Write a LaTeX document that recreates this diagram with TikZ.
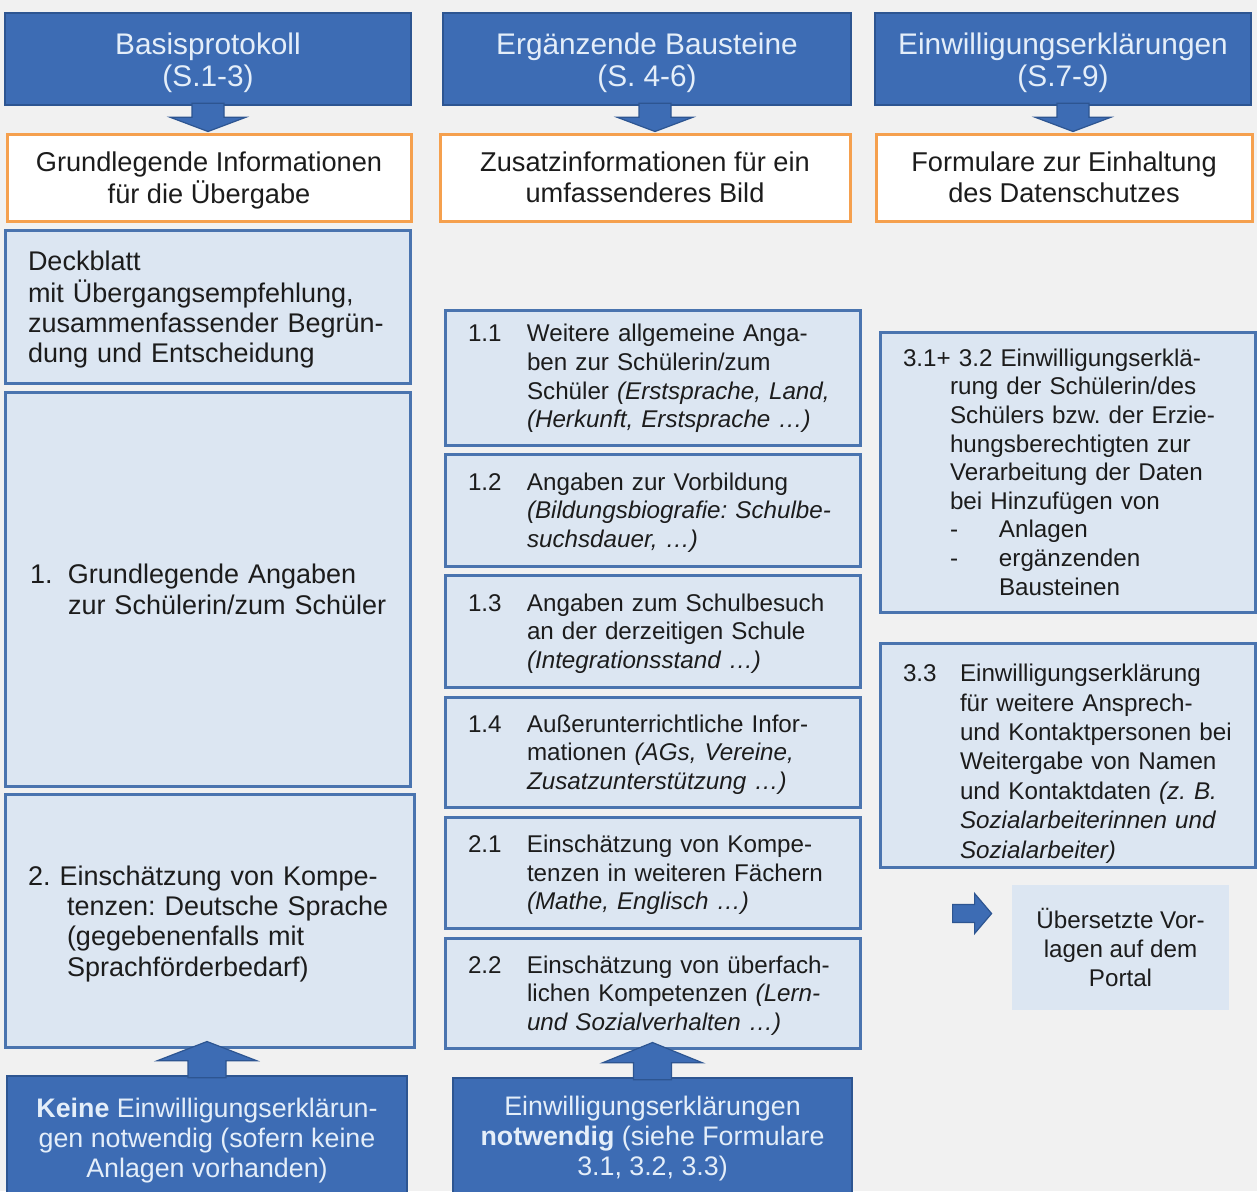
\documentclass[tikz,border=0pt]{standalone}
\usepackage{fontspec}
\setmainfont{Liberation Sans}
\usetikzlibrary{calc}
\definecolor{bg}{HTML}{F1F1F1}
\definecolor{hdfill}{HTML}{3D6CB4}
\definecolor{hdline}{HTML}{2D5591}
\definecolor{hdtext}{HTML}{E4EEF9}
\definecolor{lbfill}{HTML}{DCE6F2}
\definecolor{lbline}{HTML}{4A74AF}
\definecolor{orline}{HTML}{F5A04E}
\definecolor{txt}{HTML}{1C1C1C}
\newcommand\dn[2]{\raisebox{-#1}[\height][\depth]{#2}}
\newcommand\numtab[3]{\noindent\dn{#1}{\begin{tabular}{@{}p{#2}@{}l@{}}#3\end{tabular}}}
\newcommand\ctab[2]{\dn{#1}{\begin{tabular}{@{}c@{}}#2\end{tabular}}}
\newcommand\dnarrow[3]{%
  \filldraw[blockarrow] ($(#1.south)+(#3-16,-3)$) -- ($(#1.south)+(#3+16,-3)$)
   -- ($(#1.south)+(#3+16,11)$) -- ($(#1.south)+(#3+38,11)$)
   -- ($(#1.south |- #2.north)+(#3,-1)$)
   -- ($(#1.south)+(#3-38,11)$) -- ($(#1.south)+(#3-16,11)$) -- cycle;}
\newcommand\uparrowblk[3]{%
  \filldraw[blockarrow] ($(#1.north)+(#3-19,3)$) -- ($(#1.north)+(#3-19,-14)$)
   -- ($(#1.north)+(#3-50,-14)$) -- ($(#1.north |- #2.south)+(#3,-7)$)
   -- ($(#1.north)+(#3+50,-14)$) -- ($(#1.north)+(#3+19,-14)$)
   -- ($(#1.north)+(#3+19,3)$) -- cycle;}
\tikzset{
  hdbox/.style={draw=hdline, fill=hdfill, line width=1.2pt, text=hdtext, align=center, inner sep=0pt},
  hdfont/.style={font=\fontsize{14.9}{16}\selectfont},
  btfont/.style={font=\fontsize{13.4}{15}\selectfont},
  orbox/.style={draw=orline, fill=white, line width=1.5pt, text=txt, align=center, inner sep=0pt, font=\fontsize{13.6}{15.5}\selectfont},
  lbox/.style={draw=lbline, fill=lbfill, line width=1.5pt, text=txt, align=left, inner xsep=11.5pt, inner ysep=0pt},
  bigfont/.style={font=\fontsize{13.5}{15.2}\selectfont},
  smfont/.style={font=\fontsize{12.1}{14.3}\selectfont},
  rfont/.style={font=\fontsize{12.1}{14.7}\selectfont},
  blockarrow/.style={fill=hdfill, draw=hdline, line width=0.6pt, line join=miter},
}
\begin{document}
\frenchspacing
\begin{tikzpicture}[x=0.5pt,y=-0.5pt]
\useasboundingbox (0,0) rectangle (1257,1191);
\clip (0,0) rectangle (1257,1191);
\fill[bg] (0,0) rectangle (1257,1191);

% headers
\node[hdbox, hdfont, minimum width=203pt, minimum height=46pt] (h1) at (208,59) {\ctab{2.5pt}{Basisprotokoll\\(S.1-3)}};
\node[hdbox, hdfont, minimum width=204pt, minimum height=46pt] (h2) at (647,59) {\ctab{2.5pt}{Ergänzende Bausteine\\(S. 4-6)}};
\node[hdbox, hdfont, minimum width=188pt, minimum height=46pt] (h3) at (1063,59) {\ctab{2.5pt}{Einwilligungserklärungen\\(S.7-9)}};

% orange boxes
\node[orbox, minimum width=202pt, minimum height=43.5pt] (o1) at (209,177.5) {\ctab{1.8pt}{Grundlegende Informationen\\für die Übergabe}};
\node[orbox, minimum width=205pt, minimum height=43.5pt] (o2) at (645,177.5) {\ctab{1.8pt}{Zusatzinformationen für ein\\umfassenderes Bild}};
\node[orbox, minimum width=188pt, minimum height=43.5pt] (o3) at (1064,177.5) {\ctab{1.8pt}{Formulare zur Einhaltung\\des Datenschutzes}};

% left column
\node[lbox, bigfont, text width=179.5pt, minimum width=202.5pt, minimum height=76.5pt] (l1) at (207.5,306.5)
  {\numtab{2pt}{0pt}{\multicolumn{2}{@{}l@{}}{Deckblatt}\\ \multicolumn{2}{@{}l@{}}{mit Übergangsempfehlung,}\\ \multicolumn{2}{@{}l@{}}{zusammenfassender Begrün-}\\ \multicolumn{2}{@{}l@{}}{dung und Entscheidung}}};
\node[lbox, bigfont, text width=179.5pt, minimum width=202.5pt, minimum height=197pt] (l2) at (207.5,589)
  {\numtab{2pt}{20pt}{\hspace{1pt}1. & Grundlegende Angaben\\ & zur Schülerin/zum Schüler}};
\node[lbox, bigfont, text width=181.5pt, minimum width=204.5pt, minimum height=126.5pt] (l3) at (209.5,920.5)
  {\numtab{2pt}{19.5pt}{\multicolumn{2}{@{}l@{}}{2. Einschätzung von Kompe-}\\ & tenzen: Deutsche Sprache\\ & (gegebenenfalls mit\\ & Sprachförderbedarf)}};

% middle column
\node[lbox, smfont, text width=184.5pt, minimum width=207.5pt, minimum height=67.5pt] (m1) at (652.5,377.5)
  {\numtab{0.8pt}{29.5pt}{1.1 & Weitere allgemeine Anga-\\ & ben zur Schülerin/zum\\ & Schüler \textit{(Erstsprache, Land,}\\ & \textit{(Herkunft, Erstsprache …)}}};
\node[lbox, smfont, text width=184.5pt, minimum width=207.5pt, minimum height=56pt] (m2) at (652.5,510)
  {\numtab{1.5pt}{29.5pt}{1.2 & Angaben zur Vorbildung\\ & \textit{(Bildungsbiografie: Schulbe-}\\ & \textit{suchsdauer, …)}}};
\node[lbox, smfont, text width=184.5pt, minimum width=207.5pt, minimum height=56pt] (m3) at (652.5,631)
  {\numtab{1.5pt}{29.5pt}{1.3 & Angaben zum Schulbesuch\\ & an der derzeitigen Schule\\ & \textit{(Integrationsstand …)}}};
\node[lbox, smfont, text width=184.5pt, minimum width=207.5pt, minimum height=55pt] (m4) at (652.5,752)
  {\numtab{1.5pt}{29.5pt}{1.4 & Außerunterrichtliche Infor-\\ & mationen \textit{(AGs, Vereine,}\\ & \textit{Zusatzunterstützung …)}}};
\node[lbox, smfont, text width=184.5pt, minimum width=207.5pt, minimum height=55.5pt] (m5) at (652.5,872.5)
  {\numtab{1.5pt}{29.5pt}{2.1 & Einschätzung von Kompe-\\ & tenzen in weiteren Fächern\\ & \textit{(Mathe, Englisch …)}}};
\node[lbox, smfont, text width=184.5pt, minimum width=207.5pt, minimum height=55pt] (m6) at (652.5,993)
  {\numtab{1.5pt}{29.5pt}{2.2 & Einschätzung von überfach-\\ & lichen Kompetenzen \textit{(Lern-}\\ & \textit{und Sozialverhalten …)}}};

% right column
\node[lbox, smfont, text width=164.5pt, minimum width=187.5pt, minimum height=140pt] (r1) at (1067.5,472)
  {\noindent\dn{1.5pt}{\begin{tabular}{@{}p{23.5pt}@{}p{24.5pt}@{}l@{}}
   \multicolumn{3}{@{}l@{}}{3.1+ 3.2 Einwilligungserklä-}\\
   & \multicolumn{2}{@{}l@{}}{rung der Schülerin/des}\\
   & \multicolumn{2}{@{}l@{}}{Schülers bzw. der Erzie-}\\
   & \multicolumn{2}{@{}l@{}}{hungsberechtigten zur}\\
   & \multicolumn{2}{@{}l@{}}{Verarbeitung der Daten}\\
   & \multicolumn{2}{@{}l@{}}{bei Hinzufügen von}\\
   & - & Anlagen\\
   & - & ergänzenden\\
   & & Bausteinen
  \end{tabular}}};
\node[lbox, rfont, text width=164.5pt, minimum width=187.5pt, minimum height=112pt] (r2) at (1067.5,755)
  {\numtab{4.5pt}{28.5pt}{3.3 & Einwilligungserklärung\\ & für weitere Ansprech-\\ & und Kontaktpersonen bei\\ & Weitergabe von Namen\\ & und Kontaktdaten \textit{(z. B.}\\ & \textit{Sozialarbeiterinnen und}\\ & \textit{Sozialarbeiter)}}};
\node[fill=lbfill, text=txt, align=center, inner sep=0pt, smfont, minimum width=108.5pt, minimum height=62.5pt] (r3) at (1120.5,947.5)
  {Übersetzte Vor-\\lagen auf dem\\Portal};

% bottom boxes
\node[hdbox, btfont, minimum width=200pt, minimum height=64.5pt] (b1) at (207,1140.5)
  {\textbf{Keine} Einwilligungserklärun-\\gen notwendig (sofern keine\\Anlagen vorhanden)};
\node[hdbox, btfont, minimum width=199.5pt, minimum height=61pt] (b2) at (652.5,1139)
  {Einwilligungserklärungen\\\textbf{notwendig} (siehe Formulare\\3.1, 3.2, 3.3)};

% block arrows
\dnarrow{h1}{o1}{0}
\dnarrow{h2}{o2}{8}
\dnarrow{h3}{o3}{10}
\uparrowblk{b1}{l3}{0}
\uparrowblk{b2}{m6}{0}
\coordinate (rat) at ($(r3.west)+(-20,-34)$);
\filldraw[blockarrow] (rat) -- ++(-17,-20) -- ++(0,11) -- ++(-22,0) -- ++(0,18) -- ++(22,0) -- ++(0,11) -- cycle;
\end{tikzpicture}
\end{document}
